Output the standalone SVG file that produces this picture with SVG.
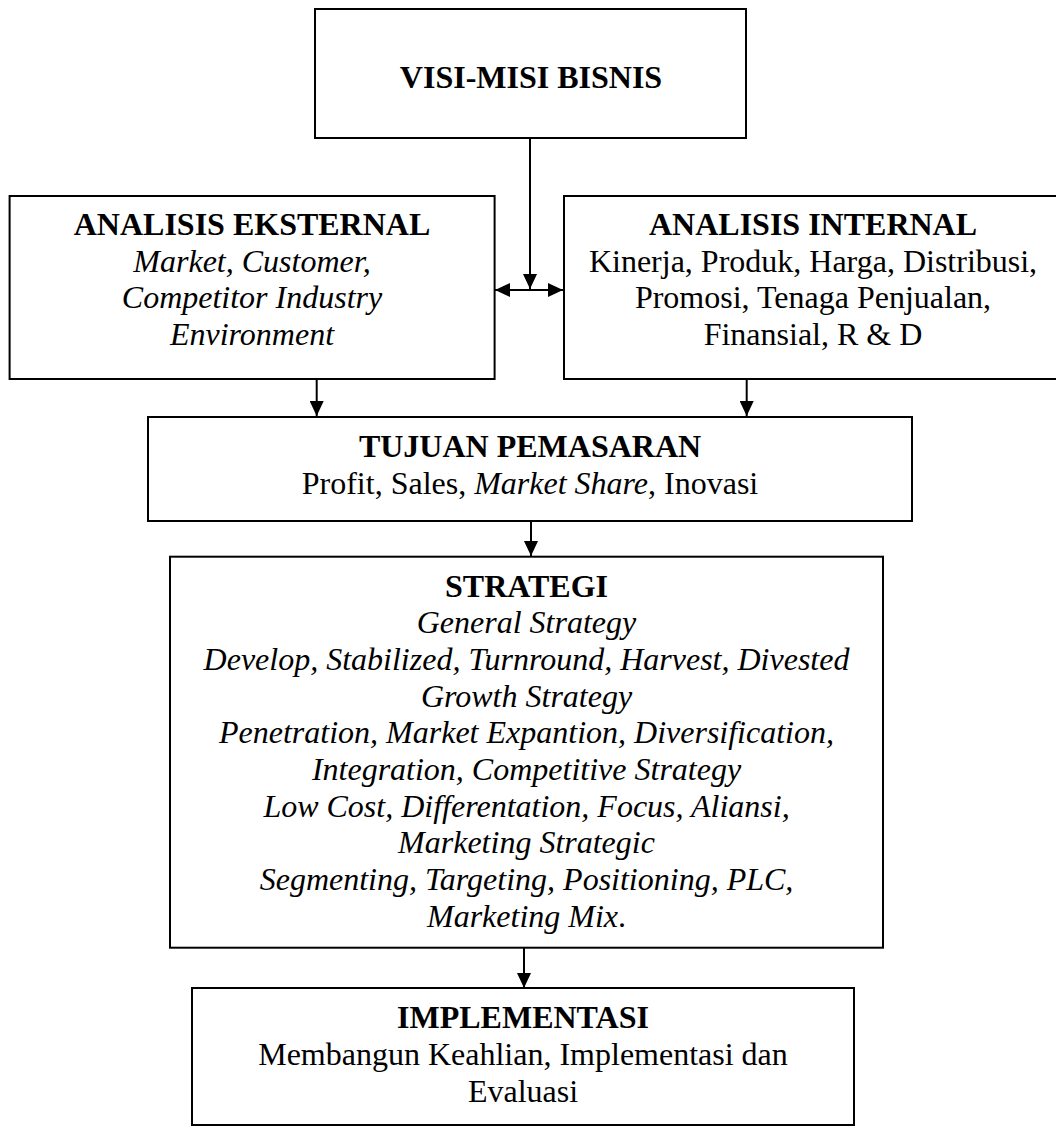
<svg xmlns="http://www.w3.org/2000/svg" width="1056" height="1128" viewBox="0 0 1056 1128">
<style>
.box{fill:#fff;stroke:#000;stroke-width:2}
.t{font-family:"Liberation Serif","Times New Roman",serif;font-size:32px;fill:#000;text-anchor:middle}
.b{font-weight:bold}
.i{font-style:italic}
.c{stroke:#000;stroke-width:2;fill:none}
</style>
<defs>
<marker id="ah" markerWidth="15" markerHeight="14" refX="15" refY="7" orient="auto-start-reverse" markerUnits="userSpaceOnUse">
<path d="M0,0 L15,7 L0,14 z" fill="#000"/>
</marker>
</defs>
<rect width="1056" height="1128" fill="#fff"/>
<g id="visi">
<rect class="box" x="315" y="9" width="431" height="129"/>
<text class="t b" x="531" y="88">VISI-MISI BISNIS</text>
</g>
<g id="eksternal">
<rect class="box" x="9.6" y="196" width="485" height="183"/>
<text class="t b" x="252" y="235">ANALISIS EKSTERNAL</text>
<text class="t i" x="252" y="271.7">Market, Customer,</text>
<text class="t i" x="252" y="308.3">Competitor Industry</text>
<text class="t i" x="252" y="345">Environment</text>
</g>
<g id="internal">
<rect class="box" x="564" y="196" width="499" height="183"/>
<text class="t b" x="813" y="235">ANALISIS INTERNAL</text>
<text class="t" x="813" y="271.7">Kinerja, Produk, Harga, Distribusi,</text>
<text class="t" x="813" y="308.3">Promosi, Tenaga Penjualan,</text>
<text class="t" x="813" y="345">Finansial, R &amp; D</text>
</g>
<g id="tujuan">
<rect class="box" x="148" y="417" width="764" height="104"/>
<text class="t b" x="530" y="457">TUJUAN PEMASARAN</text>
<text class="t" x="530" y="494">Profit, Sales, <tspan class="i">Market Share</tspan>, Inovasi</text>
</g>
<g id="strategi">
<rect class="box" x="170" y="556.7" width="713" height="391"/>
<text class="t b" x="526.5" y="596.5">STRATEGI</text>
<text class="t i" x="526.5" y="633.2">General Strategy</text>
<text class="t i" x="526.5" y="669.9">Develop, Stabilized, Turnround, Harvest, Divested</text>
<text class="t i" x="526.5" y="706.6">Growth Strategy</text>
<text class="t i" x="526.5" y="743.3">Penetration, Market Expantion, Diversification,</text>
<text class="t i" x="526.5" y="780">Integration, Competitive Strategy</text>
<text class="t i" x="526.5" y="816.7">Low Cost, Differentation, Focus, Aliansi,</text>
<text class="t i" x="526.5" y="853.4">Marketing Strategic</text>
<text class="t i" x="526.5" y="890.1">Segmenting, Targeting, Positioning, PLC,</text>
<text class="t" x="526.5" y="926.8"><tspan class="i">Marketing Mix</tspan>.</text>
</g>
<g id="implementasi">
<rect class="box" x="192" y="988" width="662" height="137"/>
<text class="t b" x="523" y="1028.3">IMPLEMENTASI</text>
<text class="t" x="523" y="1065">Membangun Keahlian, Implementasi dan</text>
<text class="t" x="523" y="1101.7">Evaluasi</text>
</g>
<g id="connectors">
<line class="c" x1="530" y1="138" x2="530" y2="289" marker-end="url(#ah)"/>
<line class="c" x1="495" y1="290" x2="563" y2="290" marker-start="url(#ah)" marker-end="url(#ah)"/>
<line class="c" x1="316.7" y1="379" x2="316.7" y2="416" marker-end="url(#ah)"/>
<line class="c" x1="746.7" y1="379" x2="746.7" y2="416" marker-end="url(#ah)"/>
<line class="c" x1="531" y1="521" x2="531" y2="556" marker-end="url(#ah)"/>
<line class="c" x1="524" y1="948" x2="524" y2="988" marker-end="url(#ah)"/>
</g>
</svg>
